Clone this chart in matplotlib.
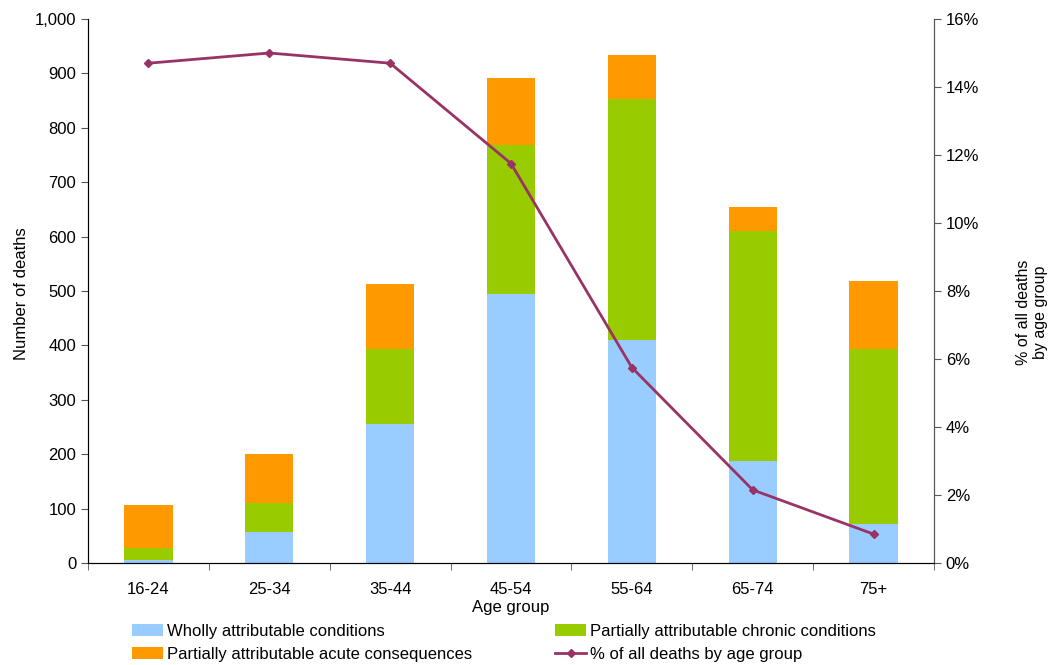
import matplotlib.pyplot as plt
from matplotlib.ticker import FuncFormatter, FixedLocator, NullFormatter

plt.rcParams['font.family'] = ['Liberation Sans', 'DejaVu Sans']
plt.rcParams['font.size'] = 12

ages = ['16-24', '25-34', '35-44', '45-54', '55-64', '65-74', '75+']
wholly = [5, 57, 256, 495, 410, 187, 72]
chronic = [23, 53, 137, 273, 443, 423, 321]
acute = [79, 90, 120, 124, 81, 44, 125]
pct_deaths = [14.7, 15.0, 14.7, 11.75, 5.75, 2.15, 0.85]

fig = plt.figure(figsize=(10.59, 6.65), dpi=100)
ax = fig.add_axes([88/1059, 1 - 563/665, (934 - 88)/1059, (563 - 19)/665])
x = list(range(len(ages)))
bottom2 = [a + b for a, b in zip(wholly, chronic)]

b1 = ax.bar(x, wholly, width=0.4, color='#99CCFF', label='Wholly attributable conditions')
b2 = ax.bar(x, chronic, width=0.4, bottom=wholly, color='#99CC00', label='Partially attributable chronic conditions')
b3 = ax.bar(x, acute, width=0.4, bottom=bottom2, color='#FF9900', label='Partially attributable acute consequences')

ax.set_xlim(-0.5, len(ages) - 0.5)
ax.set_ylim(0, 1000)
ax.set_yticks(range(0, 1001, 100))
ax.yaxis.set_major_formatter(FuncFormatter(lambda v, p: f'{int(v):,}'))
ax.set_xticks(x)
ax.set_xticklabels(ages)
ax.tick_params(axis='x', which='major', length=0, pad=14)
ax.xaxis.set_minor_locator(FixedLocator([i - 0.5 for i in range(len(ages) + 1)]))
ax.xaxis.set_minor_formatter(NullFormatter())
ax.tick_params(axis='x', which='minor', length=5, color='#555555')
ax.tick_params(axis='y', length=5, color='#555555')
ax.spines['top'].set_visible(False)
for s in ['left', 'right']:
    ax.spines[s].set_color('#555555')
ax.spines['bottom'].set_color('black')
ax.set_ylabel('Number of deaths', fontsize=12)
ax.yaxis.set_label_coords(-0.070, 0.495)
ax.set_xlabel('Age group', fontsize=12, labelpad=2)

ax2 = ax.twinx()
ax2.set_ylim(0, 16)
ax2.set_yticks(range(0, 17, 2))
ax2.yaxis.set_major_formatter(FuncFormatter(lambda v, p: f'{int(v)}%'))
ax2.tick_params(axis='y', length=5, color='#555555')
ax2.spines['top'].set_visible(False)
ax2.spines['right'].set_color('#555555')
ln, = ax2.plot(x, pct_deaths, color='#993366', marker='D', markersize=4.5, linewidth=2,
               label='% of all deaths by age group')
ax2.set_ylabel('% of all deaths\nby age group', fontsize=11.5)
ax2.yaxis.set_label_coords(1.097, 0.461)

handles = [b1, b3, b2, ln]
labels = [h.get_label() for h in handles]
fig.legend(handles, labels, ncol=2, loc='lower left', bbox_to_anchor=(132/1059, 3/665),
           frameon=False, borderpad=0, borderaxespad=0, columnspacing=5.0,
           handlelength=1.85, handletextpad=0.25, labelspacing=0.48)

fig.savefig('out.png', dpi=100)
